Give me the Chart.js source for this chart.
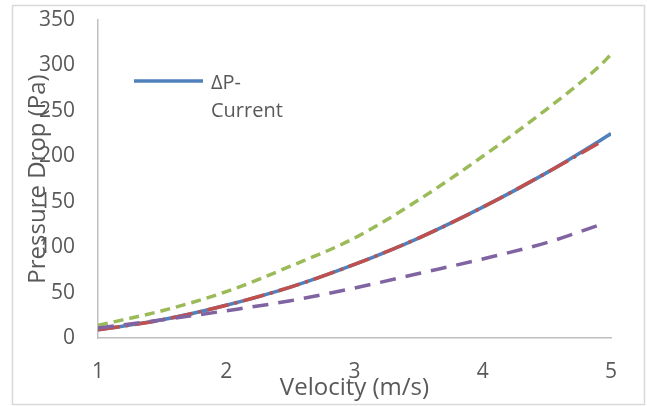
<!DOCTYPE html>
<html>
<head>
<meta charset="utf-8">
<script src="https://cdn.jsdelivr.net/npm/chart.js@4/dist/chart.umd.min.js"></script>
<style>
  html, body { margin: 0; padding: 0; background: #fff; }
  #wrap { position: relative; width: 647px; height: 406px; }
</style>
</head>
<body>
<div id="wrap"><canvas id="c" width="647" height="406"></canvas></div>
<script>
// Data
const velocity = [1, 1.5, 2, 2.5, 3, 3.5, 4, 4.5, 4.9, 5];
const dpCurrent = [9, 20, 36, 56, 81, 110, 144, 182, 216, 225];
const dpRed     = [9, 20, 36, 56, 81, 110, 144, 182, 214, null];
const dpGreen   = [14, 30, 51, 79, 110, 152, 200, 252, 298, 312];
const dpPurple  = [11, 20, 30, 41, 55, 71, 87, 105, 124, null];
const yTicks = [0, 50, 100, 150, 200, 250, 300, 350];
const xTicks = [1, 2, 3, 4, 5];
const legendLabel = ['ΔP-', 'Current'];

const FONT = "'Open Sans', sans-serif";
const TXT = '#595959';

function pts(ys) {
  const out = [];
  velocity.forEach((v, i) => { if (ys[i] !== null) out.push({x: v, y: ys[i]}); });
  return out;
}

const borderPlugin = {
  id: 'outerBorder',
  beforeDraw(chart) {
    const ctx = chart.ctx;
    ctx.save();
    ctx.strokeStyle = '#d9d9d9';
    ctx.lineWidth = 1.5;
    ctx.strokeRect(12.5, 5.5, 632, 399);
    ctx.restore();
  }
};

const legendPlugin = {
  id: 'customLegend',
  afterDraw(chart) {
    const ctx = chart.ctx;
    const a = chart.chartArea;
    const x0 = a.left + 36, x1 = a.left + 105, y = 81;
    ctx.save();
    ctx.strokeStyle = '#4F81BD';
    ctx.lineWidth = 3.5;
    ctx.beginPath();
    ctx.moveTo(x0, y); ctx.lineTo(x1, y); ctx.stroke();
    ctx.fillStyle = TXT;
    ctx.font = "20px " + FONT;
    ctx.textBaseline = 'alphabetic';
    ctx.textAlign = 'left';
    legendLabel.forEach((t, i) => ctx.fillText(t, x1 + 8, 89 + i * 28));
    ctx.restore();
  }
};

new Chart(document.getElementById('c'), {
  type: 'line',
  data: {
    datasets: [
      { label: 'ΔP-Current', data: pts(dpCurrent), borderColor: '#4F81BD', borderWidth: 3.5, order: 3 },
      { label: 'Red', data: pts(dpRed), borderColor: '#C0504D', borderWidth: 3.5, borderDash: [22, 6, 3, 6], order: 1 },
      { label: 'Green', data: pts(dpGreen), borderColor: '#9BBB59', borderWidth: 3.5, borderDash: [10, 6], order: 2 },
      { label: 'Purple', data: pts(dpPurple), borderColor: '#8064A2', borderWidth: 3.5, borderDash: [16, 10], order: 0 }
    ]
  },
  options: {
    responsive: false,
    animation: false,
    events: [],
    elements: {
      point: { radius: 0 },
      line: { tension: 0.4, cubicInterpolationMode: 'monotone', fill: false, borderCapStyle: 'butt' }
    },
    layout: { padding: { left: 13, top: 20, right: 36, bottom: 0 } },
    plugins: { legend: { display: false }, tooltip: { enabled: false } },
    scales: {
      x: {
        type: 'linear', min: 1, max: 5,
        afterBuildTicks(s) { s.ticks = xTicks.map(v => ({ value: v })); },
        afterFit(s) { s.height = 68; s.paddingLeft = 0; s.paddingRight = 0; },
        grid: { display: false, drawTicks: false },
        border: { display: true, color: '#bfbfbf', width: 1.5 },
        ticks: { color: TXT, font: { family: FONT, size: 21 }, padding: 21, maxRotation: 0 },
        title: { display: true, text: 'Velocity (m/s)', color: TXT, font: { family: FONT, size: 24 }, padding: { top: 0, bottom: 3 } }
      },
      y: {
        min: 0, max: 350,
        afterBuildTicks(s) { s.ticks = yTicks.map(v => ({ value: v })); },
        afterFit(s) { s.width = 85; s.paddingTop = 0; s.paddingBottom = 0; },
        grid: { display: false, drawTicks: false },
        border: { display: true, color: '#bfbfbf', width: 1.5 },
        ticks: { color: TXT, font: { family: FONT, size: 21 }, padding: 23 },
        title: { display: true, text: 'Pressure Drop (Pa)', color: TXT, font: { family: FONT, size: 24 }, padding: { top: 11, bottom: 0 } }
      }
    }
  },
  plugins: [borderPlugin, legendPlugin]
});
</script>
</body>
</html>
